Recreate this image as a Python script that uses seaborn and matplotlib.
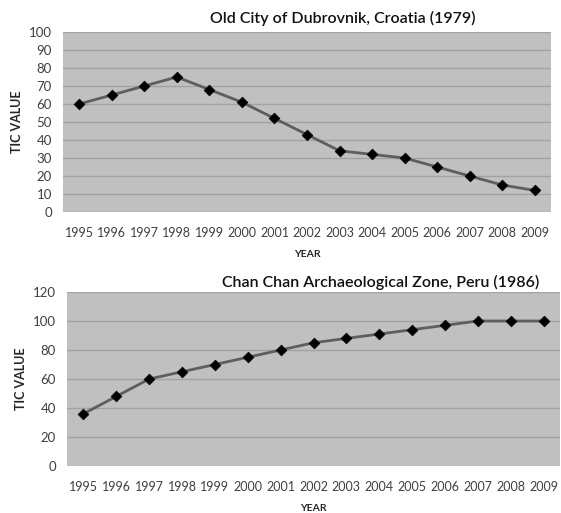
import matplotlib
matplotlib.use("Agg")
import matplotlib.pyplot as plt
import seaborn as sns
import pandas as pd

years = ["1995", "1996", "1997", "1998", "1999", "2000", "2001", "2002",
         "2003", "2004", "2005", "2006", "2007", "2008", "2009"]
dubrovnik_tic = [60, 65, 70, 75, 68, 61, 52, 43, 34, 32, 30, 25, 20, 15, 12]
chanchan_tic = [36, 48, 60, 65, 70, 75, 80, 85, 88, 91, 94, 97, 100, 100, 100]

title_top = "Old City of Dubrovnik, Croatia (1979)"
title_bottom = "Chan Chan Archaeological Zone, Peru (1986)"
x_label = "YEAR"
y_label = "TIC VALUE"

sns.set_theme(style="white")
plt.rcParams["font.family"] = ["Lato", "DejaVu Sans"]

BG = "#c0c0c0"
GRID = "#a2a2a2"
LINE = "#5e5e5e"
TEXT = "#404040"

fig = plt.figure(figsize=(5.61, 5.13), dpi=100)
ax_top = fig.add_axes([63 / 561, 1 - 212 / 513, 488 / 561, 180 / 513])
ax_bot = fig.add_axes([67 / 561, 1 - 466 / 513, 493 / 561, 174 / 513])


def draw_panel(ax, values, ymax, ystep):
    df = pd.DataFrame({"idx": range(len(years)), "tic": values})
    ax.set_facecolor(BG)
    sns.lineplot(data=df, x="idx", y="tic", ax=ax, color=LINE, linewidth=2.0,
                 zorder=3)
    sns.scatterplot(data=df, x="idx", y="tic", ax=ax, color="black",
                    marker="D", s=30, edgecolor="black", linewidth=0.5,
                    zorder=4)
    ax.set_xlim(-0.5, len(years) - 0.5)
    ax.set_ylim(0, ymax)
    ax.set_yticks(range(0, ymax + 1, ystep))
    ax.set_xticks(range(len(years)))
    ax.set_xticklabels(years)
    ax.grid(axis="y", color=GRID, linewidth=1.0, zorder=1)
    ax.set_axisbelow(True)
    for s in ax.spines.values():
        s.set_visible(False)
    ax.tick_params(axis="both", length=0, colors=TEXT)
    ax.tick_params(axis="y", pad=8, labelsize=9.5)
    ax.tick_params(axis="x", pad=11, labelsize=9)
    ax.set_xlabel(x_label, fontsize=7.5, fontweight="bold", color="#262626",
                  labelpad=8)
    ax.set_ylabel(y_label, fontsize=9, fontweight="bold", color="#262626",
                  labelpad=4)


draw_panel(ax_top, dubrovnik_tic, 100, 10)
draw_panel(ax_bot, chanchan_tic, 120, 20)

fig.text(343 / 561, 1 - 18 / 513, title_top, ha="center", va="center",
         fontsize=11.5, fontweight="semibold", color="#111111")
fig.text(381 / 561, 1 - 282 / 513, title_bottom, ha="center", va="center",
         fontsize=11.5, fontweight="semibold", color="#111111")

fig.savefig("out.png", dpi=100, facecolor="white")
